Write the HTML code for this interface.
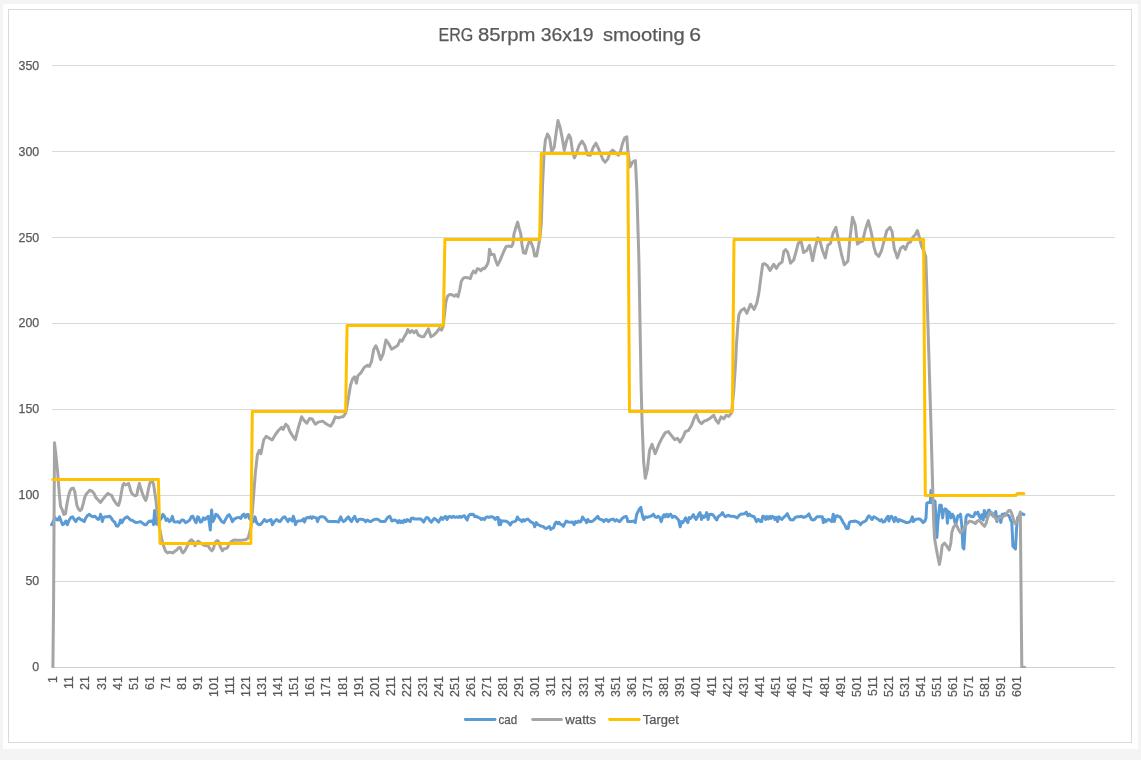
<!DOCTYPE html>
<html><head><meta charset="utf-8"><title>ERG 85rpm 36x19 smooting 6</title>
<style>
html,body{margin:0;padding:0;background:#f4f4f4;}
body{width:1141px;height:760px;overflow:hidden;font-family:"Liberation Sans",sans-serif;}
svg{display:block;}
text{font-family:"Liberation Sans",sans-serif;fill:#595959;}
.t{filter:grayscale(1);stroke:#595959;stroke-width:0.25;}
</style></head><body>
<svg width="1141" height="760" viewBox="0 0 1141 760">
<rect x="0" y="0" width="1141" height="760" fill="#f4f4f4"/>
<rect x="3" y="4" width="1135" height="745" fill="#ffffff"/>
<rect x="8.5" y="9.5" width="1123" height="733" fill="#ffffff" stroke="#d9d9d9" stroke-width="1"/>
<g stroke="#d9d9d9" stroke-width="1" shape-rendering="crispEdges">
<line x1="52" y1="65.5" x2="1114.5" y2="65.5"/>
<line x1="52" y1="151.5" x2="1114.5" y2="151.5"/>
<line x1="52" y1="237.5" x2="1114.5" y2="237.5"/>
<line x1="52" y1="323.5" x2="1114.5" y2="323.5"/>
<line x1="52" y1="409.5" x2="1114.5" y2="409.5"/>
<line x1="52" y1="495.5" x2="1114.5" y2="495.5"/>
<line x1="52" y1="581.5" x2="1114.5" y2="581.5"/>
<line x1="52" y1="667.5" x2="1114.5" y2="667.5" stroke="#d0d0d0"/>
</g>
<g class="t" font-size="18.3">
<text x="438.5" y="40.9" textLength="34.8" lengthAdjust="spacingAndGlyphs">ERG</text>
<text x="477.9" y="40.9" textLength="57.6" lengthAdjust="spacingAndGlyphs">85rpm</text>
<text x="540.7" y="40.9" textLength="52.9" lengthAdjust="spacingAndGlyphs">36x19</text>
<text x="602.9" y="40.9" textLength="81.8" lengthAdjust="spacingAndGlyphs">smooting</text>
<text x="689.3" y="40.9" textLength="11.8" lengthAdjust="spacingAndGlyphs">6</text>
</g>
<g class="t" font-size="12.4" text-anchor="end">
<text x="39.2" y="69.9">350</text>
<text x="39.2" y="155.9">300</text>
<text x="39.2" y="241.9">250</text>
<text x="39.2" y="326.9">200</text>
<text x="39.2" y="412.9">150</text>
<text x="39.2" y="498.9">100</text>
<text x="39.2" y="584.9">50</text>
<text x="39.2" y="670.9">0</text>
</g>
<g class="t" font-size="12.4" text-anchor="end">
<text transform="translate(57.3,676.2) rotate(-90)" x="0" y="0">1</text>
<text transform="translate(73.4,676.2) rotate(-90)" x="0" y="0">11</text>
<text transform="translate(89.4,676.2) rotate(-90)" x="0" y="0">21</text>
<text transform="translate(105.5,676.2) rotate(-90)" x="0" y="0">31</text>
<text transform="translate(121.6,676.2) rotate(-90)" x="0" y="0">41</text>
<text transform="translate(137.6,676.2) rotate(-90)" x="0" y="0">51</text>
<text transform="translate(153.7,676.2) rotate(-90)" x="0" y="0">61</text>
<text transform="translate(169.8,676.2) rotate(-90)" x="0" y="0">71</text>
<text transform="translate(185.8,676.2) rotate(-90)" x="0" y="0">81</text>
<text transform="translate(201.9,676.2) rotate(-90)" x="0" y="0">91</text>
<text transform="translate(218.0,676.2) rotate(-90)" x="0" y="0">101</text>
<text transform="translate(234.0,676.2) rotate(-90)" x="0" y="0">111</text>
<text transform="translate(250.1,676.2) rotate(-90)" x="0" y="0">121</text>
<text transform="translate(266.2,676.2) rotate(-90)" x="0" y="0">131</text>
<text transform="translate(282.2,676.2) rotate(-90)" x="0" y="0">141</text>
<text transform="translate(298.3,676.2) rotate(-90)" x="0" y="0">151</text>
<text transform="translate(314.4,676.2) rotate(-90)" x="0" y="0">161</text>
<text transform="translate(330.4,676.2) rotate(-90)" x="0" y="0">171</text>
<text transform="translate(346.5,676.2) rotate(-90)" x="0" y="0">181</text>
<text transform="translate(362.6,676.2) rotate(-90)" x="0" y="0">191</text>
<text transform="translate(378.6,676.2) rotate(-90)" x="0" y="0">201</text>
<text transform="translate(394.7,676.2) rotate(-90)" x="0" y="0">211</text>
<text transform="translate(410.8,676.2) rotate(-90)" x="0" y="0">221</text>
<text transform="translate(426.8,676.2) rotate(-90)" x="0" y="0">231</text>
<text transform="translate(442.9,676.2) rotate(-90)" x="0" y="0">241</text>
<text transform="translate(459.0,676.2) rotate(-90)" x="0" y="0">251</text>
<text transform="translate(475.0,676.2) rotate(-90)" x="0" y="0">261</text>
<text transform="translate(491.1,676.2) rotate(-90)" x="0" y="0">271</text>
<text transform="translate(507.2,676.2) rotate(-90)" x="0" y="0">281</text>
<text transform="translate(523.2,676.2) rotate(-90)" x="0" y="0">291</text>
<text transform="translate(539.3,676.2) rotate(-90)" x="0" y="0">301</text>
<text transform="translate(555.4,676.2) rotate(-90)" x="0" y="0">311</text>
<text transform="translate(571.4,676.2) rotate(-90)" x="0" y="0">321</text>
<text transform="translate(587.5,676.2) rotate(-90)" x="0" y="0">331</text>
<text transform="translate(603.6,676.2) rotate(-90)" x="0" y="0">341</text>
<text transform="translate(619.6,676.2) rotate(-90)" x="0" y="0">351</text>
<text transform="translate(635.7,676.2) rotate(-90)" x="0" y="0">361</text>
<text transform="translate(651.8,676.2) rotate(-90)" x="0" y="0">371</text>
<text transform="translate(667.8,676.2) rotate(-90)" x="0" y="0">381</text>
<text transform="translate(683.9,676.2) rotate(-90)" x="0" y="0">391</text>
<text transform="translate(700.0,676.2) rotate(-90)" x="0" y="0">401</text>
<text transform="translate(716.0,676.2) rotate(-90)" x="0" y="0">411</text>
<text transform="translate(732.1,676.2) rotate(-90)" x="0" y="0">421</text>
<text transform="translate(748.2,676.2) rotate(-90)" x="0" y="0">431</text>
<text transform="translate(764.2,676.2) rotate(-90)" x="0" y="0">441</text>
<text transform="translate(780.3,676.2) rotate(-90)" x="0" y="0">451</text>
<text transform="translate(796.4,676.2) rotate(-90)" x="0" y="0">461</text>
<text transform="translate(812.4,676.2) rotate(-90)" x="0" y="0">471</text>
<text transform="translate(828.5,676.2) rotate(-90)" x="0" y="0">481</text>
<text transform="translate(844.6,676.2) rotate(-90)" x="0" y="0">491</text>
<text transform="translate(860.6,676.2) rotate(-90)" x="0" y="0">501</text>
<text transform="translate(876.7,676.2) rotate(-90)" x="0" y="0">511</text>
<text transform="translate(892.8,676.2) rotate(-90)" x="0" y="0">521</text>
<text transform="translate(908.9,676.2) rotate(-90)" x="0" y="0">531</text>
<text transform="translate(924.9,676.2) rotate(-90)" x="0" y="0">541</text>
<text transform="translate(941.0,676.2) rotate(-90)" x="0" y="0">551</text>
<text transform="translate(957.1,676.2) rotate(-90)" x="0" y="0">561</text>
<text transform="translate(973.1,676.2) rotate(-90)" x="0" y="0">571</text>
<text transform="translate(989.2,676.2) rotate(-90)" x="0" y="0">581</text>
<text transform="translate(1005.3,676.2) rotate(-90)" x="0" y="0">591</text>
<text transform="translate(1021.3,676.2) rotate(-90)" x="0" y="0">601</text>
</g>
<defs><clipPath id="plotclip"><rect x="40" y="40" width="1090" height="628"/></clipPath></defs>
<g fill="none" stroke-linejoin="round" stroke-linecap="round" stroke-width="3" clip-path="url(#plotclip)">
<polyline stroke="#5b9bd5" points="51.6,524.7 53.2,521.6 54.7,517.4 56.3,519.5 57.9,520.0 59.5,516.8 61.0,521.0 62.6,524.7 64.2,523.7 65.8,521.0 67.4,524.7 68.9,520.5 71.0,517.4 72.6,516.8 74.2,519.5 75.8,521.6 77.3,518.9 78.9,517.9 80.5,519.5 82.1,520.0 84.2,521.6 85.8,517.9 87.3,515.8 89.4,514.2 91.0,515.8 93.1,516.8 95.2,516.3 96.8,518.4 98.4,519.5 100.0,516.8 100.5,514.2 101.5,516.8 102.3,521.6 103.6,517.4 105.7,516.8 107.8,516.8 109.9,516.3 111.5,518.4 113.1,521.0 114.7,522.1 116.3,525.8 117.8,526.3 119.4,523.7 120.5,520.0 122.0,522.6 123.6,519.5 125.2,517.9 127.3,516.8 128.9,518.4 130.5,520.0 132.6,520.5 134.1,521.6 136.2,522.6 138.3,522.1 140.5,521.6 142.6,523.1 144.7,524.7 146.2,524.7 147.8,522.6 149.4,521.0 151.0,521.6 152.5,520.5 153.6,524.7 154.6,510.5 155.7,518.9 156.8,524.2 161.3,518.4 162.9,514.4 164.5,516.3 166.1,520.5 167.6,518.9 169.2,521.6 170.8,520.5 172.4,516.3 173.9,521.6 175.5,522.1 177.6,521.6 179.7,522.6 181.8,520.0 183.4,520.0 185.5,522.6 187.6,521.6 189.7,520.0 191.3,516.8 192.9,516.3 194.5,520.0 196.1,522.6 197.6,516.8 198.7,517.4 200.3,522.1 201.8,521.6 203.4,517.9 205.0,519.5 206.6,517.9 208.2,516.3 209.2,521.6 210.3,530.0 211.6,510.0 212.9,521.6 214.5,518.4 215.8,514.2 217.6,515.3 219.7,518.4 221.8,521.6 223.9,522.6 226.1,518.4 227.6,515.8 229.2,514.7 230.8,517.4 232.4,521.6 234.5,518.9 236.6,517.9 238.7,517.4 240.8,518.4 242.4,515.3 243.9,514.2 245.3,517.4 246.8,514.7 248.2,514.4 249.2,518.4 253.4,521.6 255.0,516.8 256.6,522.6 258.7,524.7 260.8,524.2 262.9,521.6 264.5,519.5 266.6,521.6 268.7,520.5 270.0,520.0 271.1,519.5 272.3,524.7 273.7,522.6 275.3,520.5 276.8,519.5 278.4,521.0 280.0,521.6 281.6,519.5 283.1,517.4 284.7,516.8 286.3,518.9 287.9,521.6 289.5,518.9 291.0,519.5 292.3,521.0 293.3,516.3 294.4,519.5 295.5,524.7 296.8,521.6 298.4,521.0 300.5,520.8 302.1,520.5 303.4,518.9 304.5,522.1 305.8,518.4 307.3,517.4 308.9,517.9 310.5,516.8 311.9,518.4 313.1,516.8 314.7,517.4 316.3,517.9 317.5,521.6 318.9,517.9 320.5,516.8 322.6,516.8 324.7,517.4 326.3,519.5 327.8,521.2 329.9,521.6 333.1,521.6 336.3,521.6 338.4,522.1 339.6,519.5 340.7,516.8 342.0,520.0 343.6,521.6 345.2,520.5 346.8,518.4 348.4,516.8 349.9,519.5 351.5,521.6 353.1,518.4 354.7,516.3 356.0,519.5 357.3,521.6 358.9,519.5 360.5,519.1 362.6,519.5 364.1,520.0 365.7,521.6 367.3,520.0 368.9,521.0 370.4,521.6 372.5,520.5 374.1,519.5 376.2,519.1 378.3,519.5 379.9,521.0 381.5,521.6 383.6,521.6 385.0,521.6 386.6,518.9 388.2,516.8 389.7,516.3 390.8,518.4 391.8,521.0 393.4,520.5 395.0,520.0 396.6,521.0 397.8,522.6 399.2,520.5 400.6,522.6 401.8,521.0 403.1,522.6 404.5,520.0 406.0,521.6 407.3,519.5 408.7,520.5 410.2,521.6 411.3,518.4 412.9,517.9 414.4,518.9 416.6,519.1 418.7,519.1 420.8,518.9 422.3,520.5 423.7,522.1 425.0,519.5 426.5,517.4 428.1,517.9 429.7,520.5 431.3,522.1 432.9,520.0 434.4,518.4 436.0,519.5 437.4,521.0 438.6,522.1 439.9,519.5 441.3,517.4 442.6,519.5 443.9,517.9 445.5,516.3 447.1,519.5 448.6,516.8 450.2,516.6 451.8,517.4 453.4,516.3 454.9,517.4 456.5,516.8 458.1,517.4 459.7,516.3 461.3,517.4 462.8,516.3 464.4,515.8 466.0,518.4 467.2,520.0 468.6,515.8 470.2,514.2 471.8,514.5 473.3,514.2 474.9,516.8 476.5,516.3 478.1,517.4 479.7,517.9 481.2,519.5 482.8,518.4 484.4,519.5 486.0,517.4 487.5,516.8 489.1,517.4 490.7,516.8 492.3,516.8 493.9,517.9 495.4,519.5 496.7,517.4 498.1,517.4 499.1,524.7 500.0,520.0 500.5,524.7 501.6,521.0 503.7,521.0 506.3,521.2 508.4,522.6 510.3,525.0 512.1,522.1 514.2,521.6 515.8,521.0 517.4,517.0 518.9,519.5 520.5,520.0 521.9,521.6 523.3,519.5 524.7,521.0 526.3,519.5 527.9,519.1 529.4,520.5 531.0,522.1 532.6,522.6 534.2,524.7 534.7,526.8 536.3,522.6 537.9,524.7 539.4,525.2 541.0,526.1 543.1,526.5 544.7,527.9 546.3,528.6 547.9,527.6 549.4,526.5 550.7,529.4 552.1,528.4 553.6,527.9 554.9,523.7 556.3,522.1 557.8,523.7 558.9,522.3 560.5,524.2 562.1,524.7 563.4,526.3 564.7,523.7 566.3,521.0 568.4,522.1 570.5,522.3 572.6,522.1 574.1,524.7 575.5,521.6 576.8,522.6 578.4,521.0 579.7,522.1 581.0,521.6 582.6,517.0 584.1,519.5 585.4,520.2 586.5,522.6 587.8,519.5 589.4,521.6 591.5,521.6 593.6,520.5 595.2,518.9 596.6,517.4 597.8,516.3 599.1,518.9 601.0,519.5 602.5,520.0 603.9,521.6 605.7,519.5 607.3,520.0 608.5,521.6 609.9,520.0 611.5,519.5 613.1,519.1 614.6,520.5 615.0,521.0 616.6,519.5 618.2,521.0 619.7,521.6 621.3,519.5 622.9,517.9 624.5,516.8 626.0,516.3 627.1,518.4 627.8,521.6 629.7,521.6 631.8,521.6 633.9,521.0 635.3,522.6 636.6,514.7 638.1,511.6 639.4,508.9 640.8,507.4 641.8,512.6 642.9,517.4 643.9,519.5 645.5,516.8 647.1,517.4 648.7,516.8 650.2,516.3 651.8,515.8 653.4,514.2 655.0,516.8 656.5,517.4 658.1,516.3 659.7,517.4 661.3,521.6 662.5,517.4 663.9,514.7 665.3,516.8 666.7,514.2 668.1,516.8 669.5,514.7 670.7,514.2 672.3,517.4 673.9,516.3 675.5,516.8 677.1,518.4 678.6,520.0 680.2,526.8 681.5,521.6 682.8,522.6 684.2,520.5 685.5,517.9 686.8,521.0 687.9,522.6 689.1,517.4 690.5,518.4 692.0,516.8 693.4,514.7 694.7,517.4 696.0,519.5 697.2,517.4 698.6,514.7 700.0,512.6 701.5,519.5 702.8,515.8 704.2,517.4 705.5,515.8 706.7,512.6 708.1,519.5 709.3,514.7 710.9,514.2 712.8,514.7 714.4,516.8 715.8,518.9 716.8,520.0 718.1,516.8 719.6,515.8 721.2,514.2 722.5,512.6 723.9,515.3 725.4,516.8 727.0,515.8 728.6,515.3 730.0,516.3 732.1,516.3 734.7,516.6 737.2,517.9 738.9,515.8 740.5,514.2 742.6,513.9 744.7,513.7 746.3,512.1 747.9,515.8 749.5,514.2 751.0,515.8 752.6,516.3 754.2,516.8 755.5,519.5 756.5,521.6 757.9,519.5 759.2,520.0 760.5,521.6 761.6,521.6 762.8,516.3 764.5,516.8 765.8,519.5 767.0,516.6 768.4,518.9 769.8,516.3 771.0,518.4 772.4,516.3 773.6,516.8 775.0,519.5 776.3,517.4 777.5,521.6 778.9,516.8 780.5,518.4 781.7,519.5 783.1,517.9 784.5,516.8 786.0,515.3 787.3,513.7 788.7,516.8 790.2,519.5 792.1,520.0 793.6,519.5 795.2,517.4 797.3,516.8 799.4,516.8 801.5,516.3 803.6,517.4 805.7,516.8 807.3,515.8 808.9,513.9 810.1,516.8 811.5,519.5 813.6,520.0 815.2,518.9 816.8,516.8 819.4,516.8 822.3,516.8 823.4,522.6 824.7,519.5 825.9,521.6 827.3,520.0 828.9,519.5 830.4,520.5 831.8,521.6 833.3,514.2 834.3,521.6 835.7,516.3 837.3,515.8 838.9,516.8 840.0,516.8 841.6,519.5 843.2,522.6 844.7,524.7 846.3,528.4 848.2,528.4 849.3,522.6 850.5,521.6 852.6,521.6 854.7,521.0 856.8,521.6 858.9,522.6 860.5,524.7 862.1,522.6 864.2,521.6 866.1,520.5 867.6,517.4 868.9,515.8 870.5,517.4 872.1,519.5 873.7,516.8 875.2,517.4 876.8,518.4 878.4,519.5 880.0,521.0 881.5,519.5 883.1,522.1 884.7,521.6 886.3,518.4 887.9,516.3 888.9,521.0 890.3,516.8 891.5,516.3 892.8,518.4 894.2,521.6 895.5,517.4 896.8,519.5 898.1,521.6 899.4,519.5 901.0,520.5 902.6,521.0 904.2,521.6 905.7,522.6 907.3,522.6 909.4,522.1 911.0,520.5 912.4,516.8 913.4,521.6 915.2,519.5 917.3,519.1 919.9,519.1 921.5,520.5 923.1,522.6 924.7,521.6 926.0,517.9 926.8,503.2 928.2,502.6 930.3,502.6 931.0,490.5 931.8,502.6 935.0,501.1 936.1,522.1 936.9,537.4 937.9,522.1 939.0,511.6 939.7,505.3 941.3,505.3 942.6,517.9 943.6,510.5 945.0,508.9 946.4,509.5 947.4,523.2 948.5,511.6 949.7,512.6 951.0,517.9 952.4,514.2 953.7,516.3 954.8,522.1 955.8,524.2 956.9,520.0 957.9,515.8 959.2,516.3 960.5,514.2 961.8,525.3 962.9,547.4 963.9,548.9 965.0,530.5 966.1,516.8 967.4,514.7 968.7,514.7 970.8,516.3 972.4,516.8 973.7,516.3 975.2,512.6 976.6,513.7 977.9,512.1 979.2,516.3 980.5,518.4 981.8,514.7 983.2,520.0 984.3,510.5 985.3,516.8 986.6,515.8 988.2,510.5 989.2,510.0 990.3,512.6 991.8,514.7 993.4,516.3 994.8,513.2 995.8,511.6 996.9,521.6 998.2,516.8 999.7,516.3 1000.8,522.6 1002.2,514.2 1003.4,514.2 1005.0,513.7 1006.6,514.7 1008.2,515.3 1009.2,516.3 1010.8,520.5 1011.8,522.1 1012.9,546.3 1014.5,547.9 1015.5,548.9 1016.6,527.4 1017.6,517.9 1019.2,515.8 1020.8,514.7 1022.4,513.7 1023.9,514.5"/>
<polyline stroke="#a5a5a5" points="52.9,667.3 53.6,600.0 54.5,442.8 55.9,454.9 57.5,470.7 58.5,483.4 59.6,497.1 60.6,506.5 62.2,509.7 63.8,514.4 65.4,513.9 66.9,504.4 68.5,496.0 70.1,490.7 71.7,488.4 73.3,488.1 74.8,491.8 75.9,499.2 76.9,505.5 78.5,509.2 80.1,510.7 81.7,509.2 83.3,503.4 84.8,497.1 86.4,493.9 88.0,492.3 89.6,490.2 91.2,490.7 92.7,491.8 94.3,493.9 95.9,497.6 98.0,499.7 100.6,502.5 102.2,500.2 103.8,498.1 105.9,495.5 108.0,493.4 110.1,494.9 111.7,495.5 113.3,499.2 115.4,502.3 116.9,504.4 118.5,505.5 120.1,500.2 121.7,490.7 122.9,484.9 124.0,483.4 125.4,484.9 126.9,484.4 128.5,483.4 129.6,486.5 130.6,490.7 132.2,493.9 133.8,495.2 135.4,495.8 136.9,494.9 138.0,488.6 139.4,483.4 140.6,487.6 142.2,492.8 143.8,497.1 145.7,500.4 146.9,497.1 148.5,488.6 149.9,482.8 151.2,481.5 152.7,481.8 153.8,485.5 154.8,492.8 155.9,500.2 156.9,509.7 158.0,516.0 158.4,522.1 161.6,538.9 162.4,541.6 163.9,546.8 165.5,551.1 167.6,552.9 169.7,552.1 172.4,552.9 174.5,551.6 176.6,550.0 178.7,547.7 180.3,547.4 181.8,551.6 182.9,552.9 185.0,550.5 187.1,546.3 189.2,541.6 191.3,539.7 193.4,541.6 195.0,545.8 196.6,542.6 198.2,541.1 200.3,542.6 202.9,544.7 205.5,545.8 207.6,544.7 209.7,548.4 211.8,550.8 213.4,548.9 215.0,542.6 217.1,540.5 218.7,541.6 220.3,546.8 222.4,550.8 223.9,548.9 226.1,548.4 227.6,547.4 229.2,543.7 231.3,541.6 233.9,540.0 237.1,540.3 241.3,540.3 245.5,539.7 248.2,537.9 249.7,532.1 251.1,526.3 253.2,501.1 255.3,473.7 257.4,454.7 259.1,450.5 260.9,453.7 263.7,440.0 266.2,436.2 268.9,437.9 272.1,440.0 275.3,434.7 278.4,430.5 281.6,427.4 283.1,429.5 285.8,424.2 287.9,426.3 290.0,431.6 293.2,436.8 295.3,439.6 298.4,427.4 301.6,416.8 304.7,421.1 306.8,423.2 309.6,418.5 312.1,418.9 315.3,424.2 318.4,422.1 322.6,421.1 326.8,424.2 330.6,426.3 333.2,422.1 335.3,416.8 338.4,417.9 341.6,416.8 343.2,416.8 345.9,412.6 348.4,397.9 350.5,385.3 352.6,378.9 354.7,376.8 356.4,383.2 357.9,375.8 361.1,372.6 364.2,367.4 367.4,365.3 369.5,366.3 371.6,361.1 373.7,349.5 375.8,345.7 377.9,350.5 380.6,359.6 383.2,353.7 385.9,340.0 388.4,343.2 391.6,349.1 394.7,347.4 397.9,345.3 400.0,340.0 402.1,341.1 404.2,336.8 406.3,333.7 407.8,329.5 409.9,332.6 412.0,330.5 414.1,332.6 416.2,330.5 418.3,335.2 421.1,336.4 423.8,336.8 426.3,332.6 428.4,328.8 430.9,336.8 433.7,335.2 436.8,332.2 439.4,328.4 441.5,330.1 443.2,326.3 445.8,302.6 447.4,296.3 449.7,294.4 452.1,294.7 454.5,296.3 456.1,294.7 458.1,296.6 459.7,290.0 461.3,281.3 463.2,278.2 465.5,277.4 467.9,277.7 470.3,278.6 471.8,274.2 473.4,271.1 475.5,273.0 477.4,268.7 479.3,269.2 480.8,270.7 482.9,268.2 484.5,268.7 486.8,265.5 488.4,261.6 489.5,249.3 491.3,254.5 494.0,254.5 495.5,260.0 497.6,265.1 499.5,261.6 501.8,256.1 504.2,250.5 506.1,246.6 509.0,246.1 511.3,246.6 512.9,244.2 514.0,233.9 516.1,226.8 517.6,222.1 519.2,228.4 520.8,233.9 521.9,244.2 523.5,252.9 525.5,253.4 527.6,245.8 529.8,240.3 531.8,244.2 533.4,248.9 534.7,256.1 536.6,256.1 538.2,247.4 539.7,239.5 541.3,223.7 542.6,184.2 544.1,152.6 545.4,140.0 547.5,134.1 549.6,137.9 551.7,151.6 554.2,147.4 556.3,131.6 558.0,120.6 560.1,127.4 562.2,137.9 564.3,150.5 566.4,141.1 568.9,134.7 570.6,137.9 572.7,152.6 574.4,157.9 576.3,153.7 579.1,145.3 582.0,141.1 584.7,145.3 587.5,154.7 590.4,155.2 593.2,147.4 595.9,143.2 598.4,148.4 600.9,154.7 603.1,160.0 605.2,162.1 607.9,158.9 610.0,152.6 612.7,150.1 615.3,152.6 618.4,155.2 620.5,151.6 622.6,143.2 624.7,137.9 626.8,136.8 627.8,150.5 629.9,166.9 632.6,162.1 635.4,160.6 636.8,188.4 637.9,226.3 638.9,260.0 641.1,385.3 642.1,423.2 643.6,461.1 645.3,478.3 647.4,469.5 649.5,450.5 652.0,444.2 655.2,453.7 658.9,444.2 662.1,437.9 665.3,432.6 668.4,431.6 671.6,435.8 674.7,439.6 677.5,438.3 680.0,442.1 683.2,436.8 685.3,431.6 688.4,430.5 691.6,425.3 694.3,417.9 696.4,414.7 698.9,421.1 701.5,423.6 704.2,421.1 707.4,420.0 710.5,417.9 713.7,415.2 715.8,420.0 718.3,423.2 721.1,416.8 723.8,418.9 726.3,415.2 728.8,416.4 731.6,412.6 733.7,391.6 735.8,360.0 736.4,345.3 737.9,324.2 738.9,314.7 741.1,310.5 744.2,308.4 746.9,313.3 750.5,304.2 754.1,309.5 756.8,303.2 758.9,292.6 761.1,275.8 762.7,264.2 764.6,263.6 767.4,265.7 770.1,270.5 773.7,264.2 776.4,268.4 778.9,264.2 782.1,262.1 783.8,251.6 785.7,249.5 787.8,252.6 790.5,263.2 793.7,260.0 795.8,252.6 798.3,243.2 801.1,241.1 803.6,252.6 806.7,250.5 809.5,245.3 812.6,260.6 815.2,247.4 817.9,237.9 820.0,241.1 822.5,250.5 825.3,257.9 827.8,245.3 830.5,243.2 833.2,232.6 835.9,227.4 838.4,240.0 841.6,254.7 844.3,264.8 847.9,261.1 850.0,237.9 852.5,217.3 855.3,225.3 857.4,244.2 859.9,242.1 862.6,241.1 865.4,229.5 868.3,220.6 871.1,231.6 873.8,246.3 875.9,253.7 878.8,256.4 881.6,250.5 884.3,240.0 886.8,230.5 890.0,227.4 892.1,231.6 894.2,248.4 897.4,257.9 900.5,248.4 903.3,246.3 905.4,249.5 907.9,243.2 910.4,242.1 913.2,236.8 915.3,234.7 917.4,230.5 919.5,237.9 921.6,246.3 923.7,250.5 925.8,256.8 927.2,300.0 930.8,420.0 932.9,495.8 933.7,522.1 934.5,537.9 936.1,547.4 937.6,555.8 939.4,564.4 940.8,556.8 942.2,545.3 944.5,543.2 946.6,545.8 949.2,550.0 950.8,543.2 951.8,532.6 953.4,527.4 955.0,525.3 956.1,524.2 957.1,526.3 958.7,530.0 960.5,532.6 962.4,531.1 963.9,528.4 965.5,525.3 967.1,523.7 968.7,522.1 969.7,521.1 971.8,521.6 973.9,522.6 975.5,523.7 977.1,521.1 978.7,520.5 980.8,522.1 982.9,524.7 984.5,526.3 986.1,523.2 987.6,517.9 989.2,513.7 990.8,512.1 992.4,513.2 993.9,516.3 995.5,518.4 997.6,520.0 999.2,517.9 1000.8,516.8 1002.4,517.4 1003.9,515.8 1005.5,515.3 1007.1,512.6 1008.7,510.5 1010.3,510.5 1011.8,513.7 1013.4,518.9 1015.0,523.7 1016.6,522.1 1018.2,518.9 1019.2,515.8 1020.3,512.1 1020.3,512.0 1021.8,667.3 1024.6,667.3"/>
<polyline stroke="#ffc000" points="52.8,479.5 158.4,479.5 160.0,543.5 250.8,543.5 252.3,411.5 345.6,411.5 347.1,325.5 443.3,325.5 444.9,239.5 539.6,239.5 541.3,153.5 627.8,153.5 629.5,411.5 732.4,411.5 734.0,239.5 923.6,239.5 925.3,495.5 1015.8,495.5 1017.4,493.5 1023.9,493.5"/>
</g>
<g fill="none" stroke-linecap="round" stroke-width="2.8">
<line x1="465.3" y1="719.5" x2="495.1" y2="719.5" stroke="#5b9bd5"/>
<line x1="532.6" y1="719.5" x2="561.5" y2="719.5" stroke="#a5a5a5"/>
<line x1="609.6" y1="719.5" x2="639.2" y2="719.5" stroke="#ffc000"/>
</g>
<g class="t" font-size="12.6">
<text x="498.6" y="723.7" textLength="18.6" lengthAdjust="spacingAndGlyphs">cad</text>
<text x="565.3" y="723.7" textLength="30.8" lengthAdjust="spacingAndGlyphs">watts</text>
<text x="642.8" y="723.7" textLength="36" lengthAdjust="spacingAndGlyphs">Target</text>
</g>
</svg>
</body></html>
